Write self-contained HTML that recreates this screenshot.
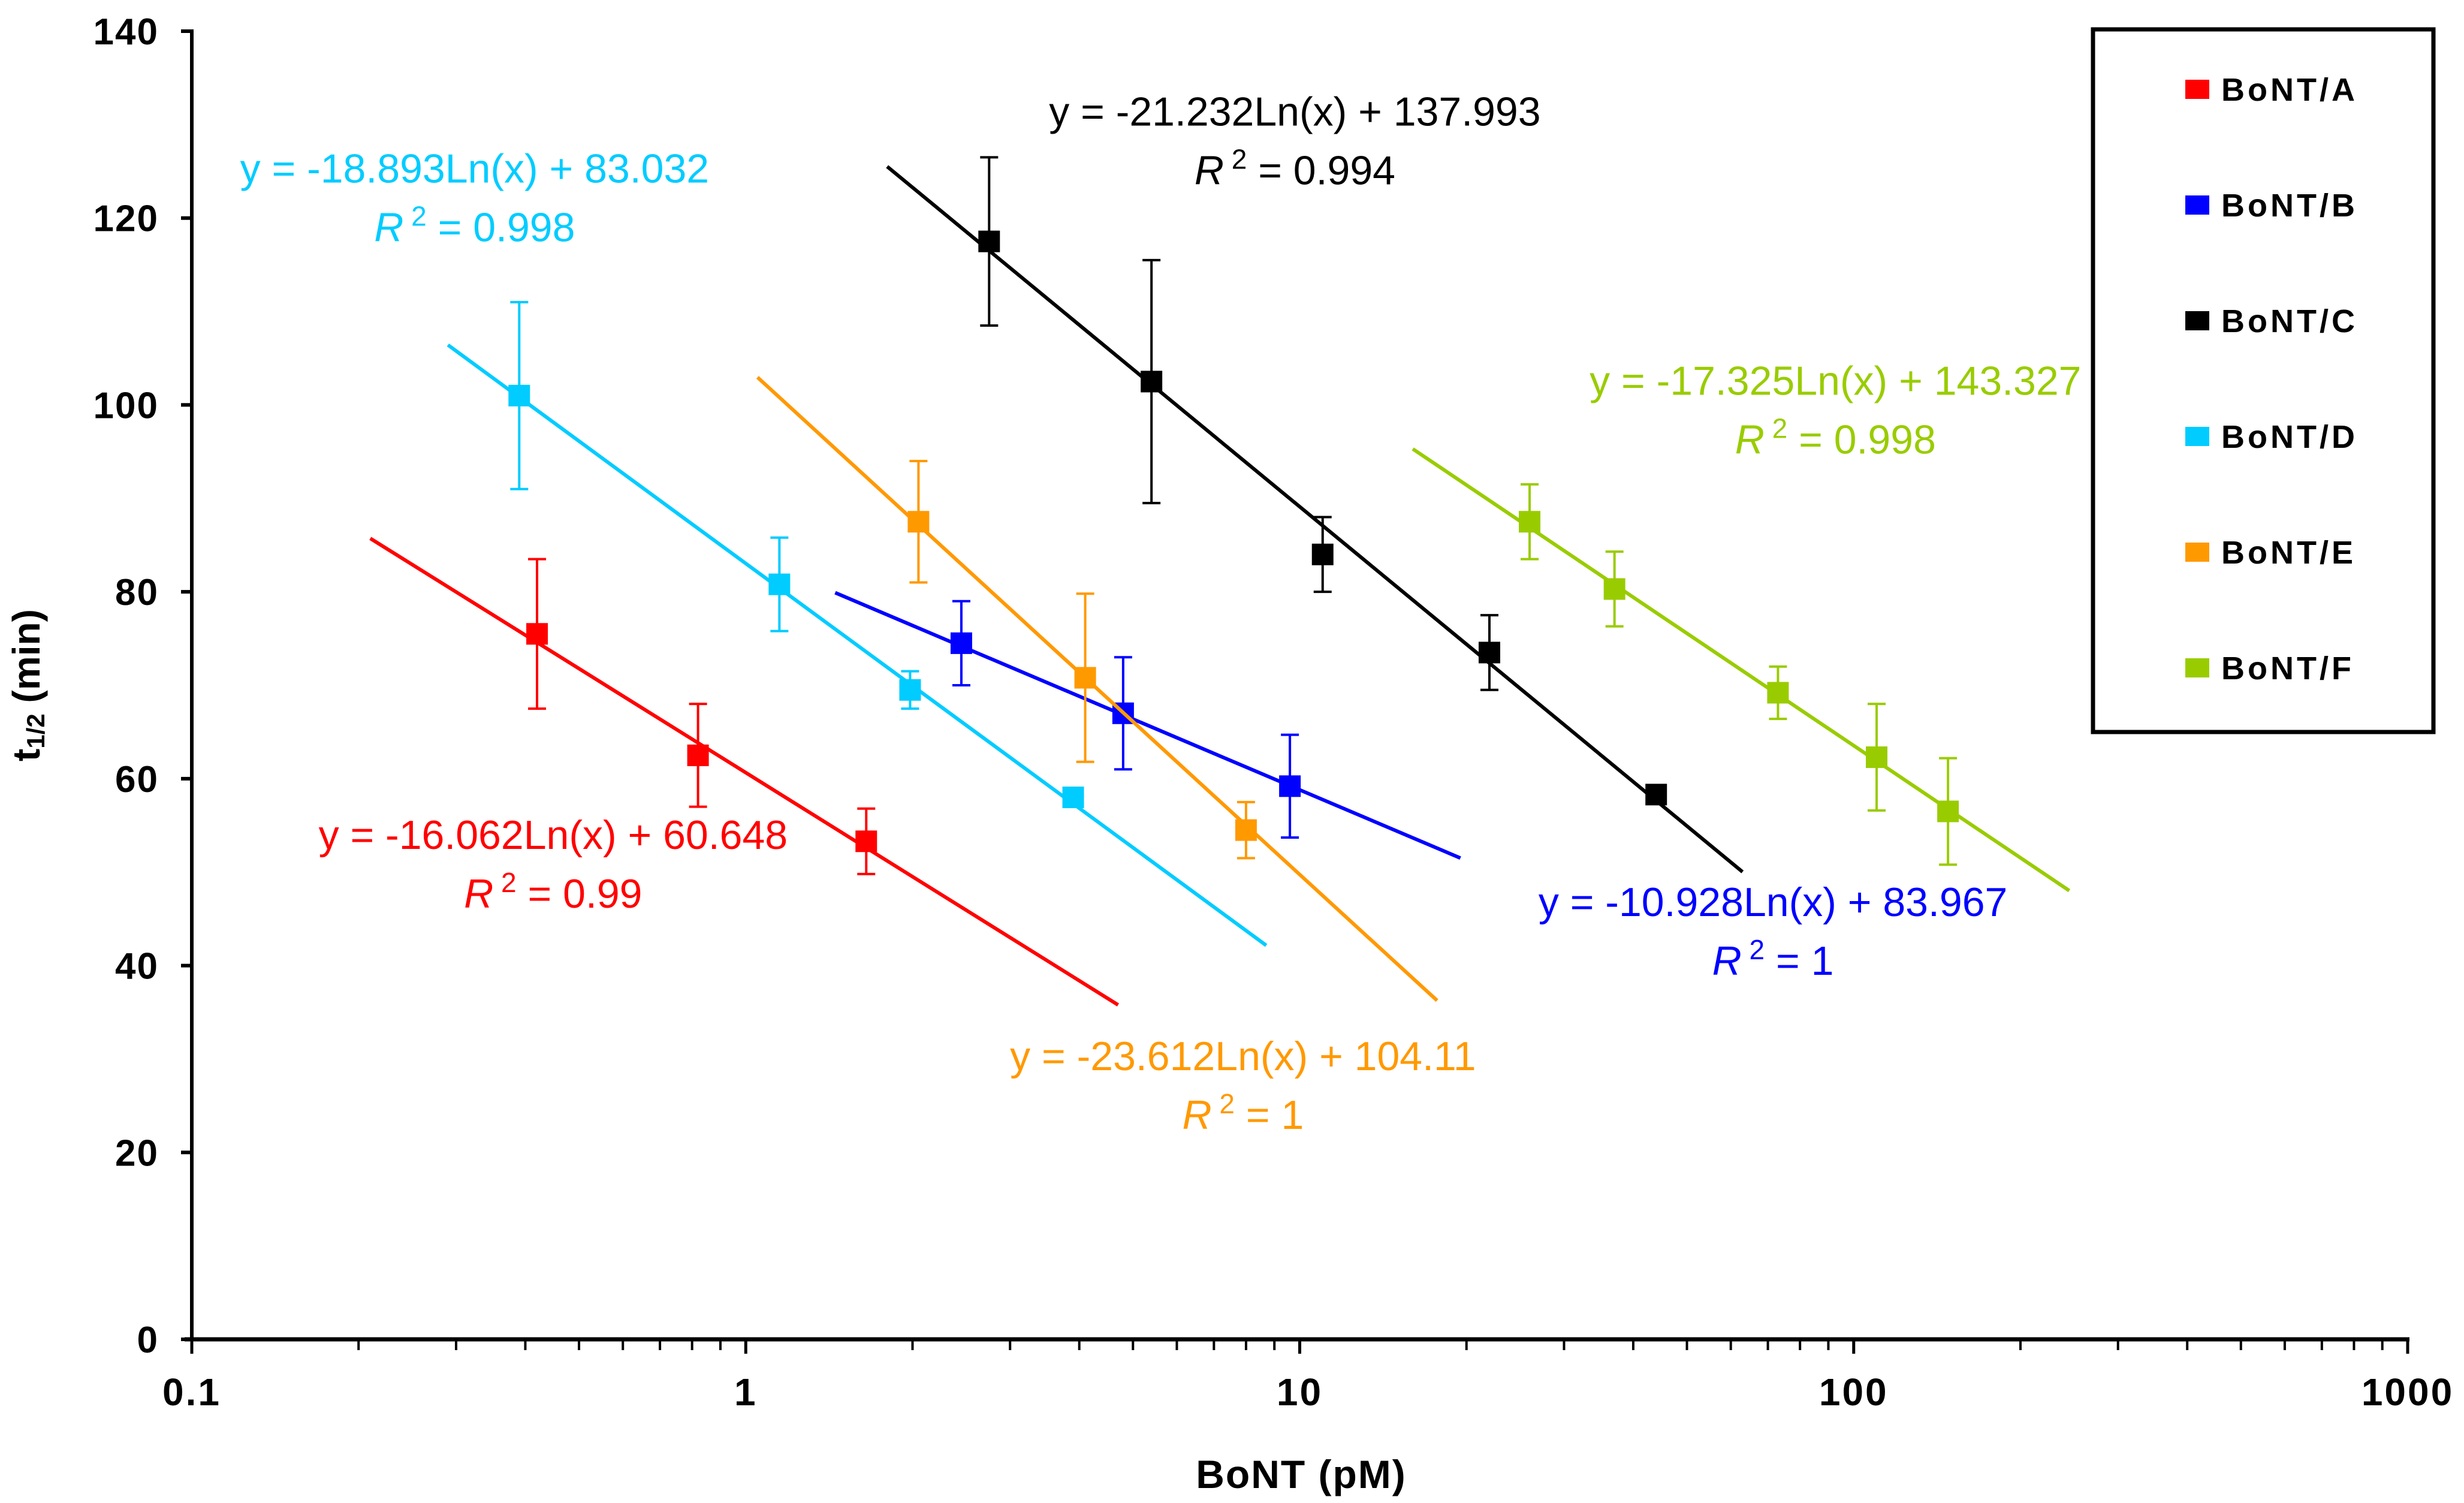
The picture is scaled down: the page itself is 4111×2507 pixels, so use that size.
<!DOCTYPE html>
<html><head><meta charset="utf-8"><style>
html,body{margin:0;padding:0;background:#fff}
svg{display:block}
text{font-family:"Liberation Sans",Arial,sans-serif}
</style></head><body>
<svg id="chart" width="4111" height="2507" viewBox="0 0 4111 2507" xmlns="http://www.w3.org/2000/svg">
<g id="axes"></g>
<g id="series"></g>
<g id="legend"></g>
</svg>
<script>
const yTicks=[0,20,40,60,80,100,120,140];
const xTickLabels=["0.1","1","10","100","1000"];
const seriesNames=["BoNT/A","BoNT/B","BoNT/C","BoNT/D","BoNT/E","BoNT/F"];
const seriesColors=["#ff0000","#0000ff","#000000","#00ccff","#ff9900","#99cc00"];
const slopes=[-16.062,-10.928,-21.232,-18.893,-23.612,-17.325];
const intercepts=[60.648,83.967,137.993,83.032,104.11,143.327];
const eqLabels=["y = -16.062Ln(x) + 60.648","y = -10.928Ln(x) + 83.967","y = -21.232Ln(x) + 137.993","y = -18.893Ln(x) + 83.032","y = -23.612Ln(x) + 104.11","y = -17.325Ln(x) + 143.327"];
const r2Labels=["0.99","1","0.994","0.998","1","0.998"];
const lineRange=[[0.21,4.7],[1.45,19.5],[1.8,63],[0.29,8.7],[1.05,17.7],[16,245]];
const xA=[0.42,0.82,1.65], yA=[75.5,62.5,53.3], eA=[8,5.5,3.5];
const xB=[2.45,4.8,9.6], yB=[74.5,67,59.2], eB=[4.5,6,5.5];
const xC=[2.75,5.4,11,22,44], yC=[117.5,102.5,84,73.5,58.3], eC=[9,13,4,4,1];
const xD=[0.39,1.15,1.98,3.9], yD=[101,80.8,69.5,58], eD=[10,5,2,1];
const xE=[2.05,4.1,8], yE=[87.5,70.8,54.5], eE=[6.5,9,3];
const xF=[26,37,73,110,148], yF=[87.5,80.3,69.2,62.3,56.5], eF=[4,4,2.8,5.7,5.7];
// label anchor positions (in data units: x value, y value)
const eqPos=[[0.449,52.5],[71.5,45.3],[9.8,129.9],[0.324,123.8],[7.9,28.8],[92.7,101.1]];

const X0=320,X1=4017,Y0=2234,Y1=52;
const sx=v=>X0+(Math.log10(v)+1)/4*(X1-X0);
const sy=v=>Y0-v/140*(Y0-Y1);
const NS="http://www.w3.org/2000/svg";
function mk(tag,attrs,parent){const e=document.createElementNS(NS,tag);for(const k in attrs)e.setAttribute(k,attrs[k]);parent.appendChild(e);return e;}
const axes=document.getElementById('axes'),ser=document.getElementById('series'),leg=document.getElementById('legend');

let yl=mk('line',{x1:X0,y1:Y0,x2:X0,y2:Y1-3,stroke:'#000','stroke-width':6},axes);

let xl=mk('line',{x1:X0-12,y1:Y0,x2:X1+3,y2:Y0,stroke:'#000','stroke-width':7},axes);

yTicks.forEach(t=>{const y=sy(t);
 const tk=mk('line',{x1:X0-18,y1:y,x2:X0,y2:y,stroke:'#000','stroke-width':6},axes);
 
 const tx=mk('text',{x:X0-55,y:y+22,'text-anchor':'end','font-size':62,'font-weight':'bold','letter-spacing':2},axes);
 tx.textContent=t;});
xTickLabels.forEach((l,i)=>{const v=Math.pow(10,i-1);const x=sx(v);
 const tk=mk('line',{x1:x,y1:Y0,x2:x,y2:Y0+24,stroke:'#000','stroke-width':5},axes);
 
 const tx=mk('text',{x:x,y:Y0+110,'text-anchor':'middle','font-size':64,'font-weight':'bold','letter-spacing':3},axes);
 tx.textContent=l;
 if(i<4){for(let m=2;m<10;m++){const xm=sx(v*m);
  const mt=mk('line',{x1:xm,y1:Y0,x2:xm,y2:Y0+18,stroke:'#000','stroke-width':4},axes);
  }}});
let xt=mk('text',{x:2171,y:2482,'text-anchor':'middle','font-size':66,'font-weight':'bold','letter-spacing':2},axes);
xt.textContent='BoNT (pM)';
let ytt=mk('text',{x:0,y:0,transform:'translate(66,1143) rotate(-90)','text-anchor':'middle','font-size':64,'font-weight':'bold'},axes);
ytt.innerHTML='t<tspan font-size="42" dy="8">1/2</tspan><tspan dy="-8"> (min)</tspan>';


const xs=[xA,xB,xC,xD,xE,xF],ys=[yA,yB,yC,yD,yE,yF],es=[eA,eB,eC,eD,eE,eF];
seriesNames.forEach((n,i)=>{const c=seriesColors[i];
 const g=mk('g',{},ser);
 const [a,b]=lineRange[i];const f=v=>slopes[i]*Math.log(v)+intercepts[i];
 const tl=mk('line',{x1:sx(a),y1:sy(f(a)),x2:sx(b),y2:sy(f(b)),stroke:c,'stroke-width':6},g);
 
 xs[i].forEach((xv,j)=>{const x=sx(xv),y=sy(ys[i][j]),e=es[i][j];
  const eb=mk('path',{d:`M${x},${sy(ys[i][j]-e)}V${sy(ys[i][j]+e)}M${x-15},${sy(ys[i][j]+e)}H${x+15}M${x-15},${sy(ys[i][j]-e)}H${x+15}`,stroke:c,'stroke-width':4,fill:'none'},g);
  
  const p=mk('rect',{x:x-18,y:y-18,width:36,height:36,fill:c},g);
  });
 const lx=sx(eqPos[i][0]),ly=sy(eqPos[i][1]);
 const t1=mk('text',{x:lx,y:ly,'text-anchor':'middle','font-size':68,fill:c},g);
 t1.textContent=eqLabels[i];
 const t2=mk('text',{x:lx,y:ly+98,'text-anchor':'middle','font-size':68,fill:c},g);
 t2.innerHTML='<tspan font-style="italic">R</tspan><tspan font-size="46" dy="-26"> 2</tspan><tspan dy="26"> = '+r2Labels[i]+'</tspan>';
 });

let box=mk('rect',{x:3492,y:49,width:568,height:1172,fill:'#fff',stroke:'#000','stroke-width':7},leg);

seriesNames.forEach((n,i)=>{const y=149+i*193;
 const g=mk('g',{},leg);
 const s=mk('rect',{x:3646,y:y-16,width:40,height:32,fill:seriesColors[i]},g);
 
 const t=mk('text',{x:3706,y:y+19,'font-size':54,'font-weight':'bold','letter-spacing':5},g);
 t.textContent=n;});
</script>
</body></html>
